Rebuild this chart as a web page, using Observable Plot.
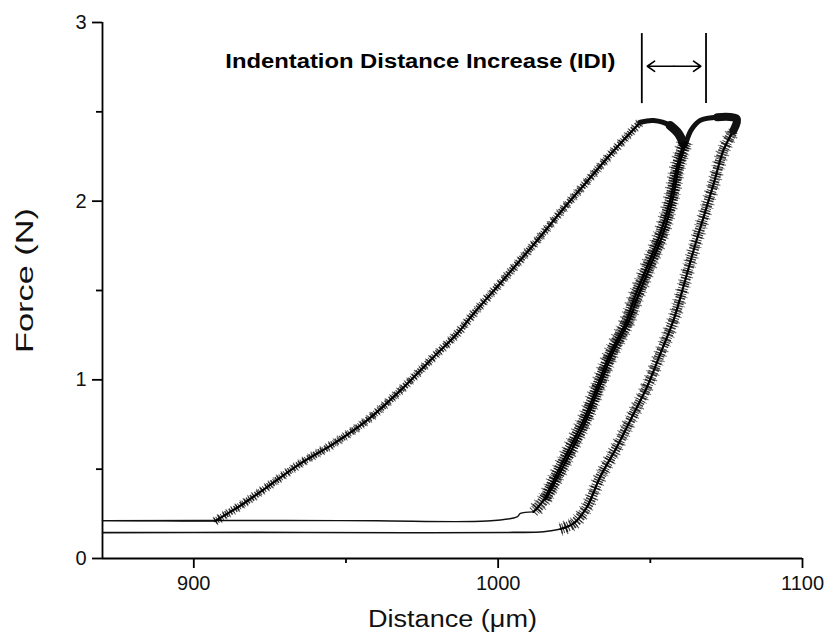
<!DOCTYPE html>
<html>
<head>
<meta charset="utf-8">
<script src="https://cdn.jsdelivr.net/npm/d3@7"></script>
<script src="https://cdn.jsdelivr.net/npm/@observablehq/plot@0.6"></script>
<style>
  html, body { margin: 0; padding: 0; background: #fff; }
  #chart { width: 826px; height: 641px; }
</style>
</head>
<body>
<div id="chart"></div>
<script>
// ---- data (distance in µm, force in N) ----
const xTicks = [900, 1000, 1100];
const xMinorTicks = [950, 1050];
const yTicks = [0, 1, 2, 3];
const yMinorTicks = [0.5, 1.5, 2.5];

// first cycle
const approach1 = [[870, 0.212], [890, 0.211], [907, 0.209]];
const loading1 = [[907, 0.209], [909.3, 0.233], [916.4, 0.308], [924.1, 0.400], [935.0, 0.531], [946.0, 0.643],
  [956.9, 0.773], [967.9, 0.941], [978.8, 1.128], [986.5, 1.258], [991.9, 1.370], [1001.8, 1.562],
  [1012.8, 1.780], [1021.5, 1.959], [1029.2, 2.110], [1035.7, 2.239], [1042.3, 2.362], [1046.7, 2.442]];
const hold1 = [[1046.7, 2.442], [1051.1, 2.451], [1056.5, 2.423], [1059.3, 2.377], [1060.9, 2.321]];
const unloading1 = [[1060.9, 2.321], [1058.7, 2.190], [1056.5, 2.004], [1053.3, 1.818], [1048.9, 1.631],
  [1044.5, 1.445], [1042.3, 1.333], [1036.8, 1.147], [1032.5, 0.960], [1028.1, 0.773], [1023.7, 0.624],
  [1019.3, 0.475], [1014.9, 0.326], [1011.6, 0.261]];
const return1 = [[1011.6, 0.261], [1007.3, 0.252], [1006.2, 0.233], [996.3, 0.210], [960, 0.211], [930, 0.213], [870, 0.212]];

// second cycle
const approach2 = [[870, 0.145], [920, 0.146], [970, 0.144], [1005, 0.146], [1015, 0.150], [1020.5, 0.165]];
const loading2 = [[1020.5, 0.165], [1024.8, 0.196], [1029.2, 0.289], [1033.5, 0.456], [1039.0, 0.624], [1043.4, 0.773],
  [1048.9, 0.960], [1053.3, 1.147], [1057.6, 1.333], [1061.0, 1.529], [1064.2, 1.724], [1067.5, 1.911],
  [1070.8, 2.097], [1074.0, 2.284], [1077.3, 2.395]];
const hold2 = [[1077.3, 2.395], [1078.4, 2.461], [1072, 2.470], [1066.4, 2.452], [1063.5, 2.400], [1061.8, 2.330]];
const unloading2 = [[1061.8, 2.330], [1059.5, 2.200], [1057.3, 2.010], [1054.2, 1.820], [1049.8, 1.630],
  [1045.3, 1.440], [1043.0, 1.330], [1037.6, 1.150], [1033.2, 0.960], [1028.8, 0.770], [1024.5, 0.620],
  [1020.0, 0.470], [1015.6, 0.330]];

// annotation
const idiText = ["Indentation Distance Increase (IDI)"];
const idiTextPos = [1038.5, 2.78];
const idiBars = [1047.2, 1068.3];
const idiBarRange = [2.546, 2.938];
const idiArrowEnds = [1049.0, 1066.6];
const idiArrowY = 2.755;

const xLabel = "Distance (\u03bcm)";
const yLabel = "Force (N)";

// ---- drawing ----
const FONT = "'Liberation Sans', Arial, Helvetica, sans-serif";
const X = d => d[0], Y = d => d[1];
const HATCH_A = "1.4,1.0,0.9,1.5,1.7,1.1,1.0,1.7,1.5,0.9";
const HATCH_B = "1.0,3.7,1.3,5.1,0.8,2.9,1.1,4.6";

function noisy(data, w) {
  return [
    Plot.line(data, {x: X, y: Y, stroke: "#000", strokeWidth: w * 1.4, strokeDasharray: HATCH_B,
      strokeLinecap: "butt", strokeLinejoin: "miter", strokeOpacity: 0.55, curve: "catmull-rom"}),
    Plot.line(data, {x: X, y: Y, stroke: "#000", strokeWidth: w, strokeDasharray: HATCH_A,
      strokeLinecap: "butt", strokeLinejoin: "miter", strokeOpacity: 0.8, curve: "catmull-rom"}),
    Plot.line(data, {x: X, y: Y, stroke: "#000", strokeWidth: 2.2, curve: "catmull-rom"})
  ];
}
function plain(data, w) {
  return Plot.line(data, {x: X, y: Y, stroke: "#111", strokeWidth: w, curve: "catmull-rom"});
}

const mid = (idiArrowEnds[0] + idiArrowEnds[1]) / 2;
const fmt = d => String(d);

const chart = Plot.plot({
  width: 826,
  height: 641,
  marginLeft: 102,
  marginRight: 24,
  marginTop: 22,
  marginBottom: 83,
  style: {fontFamily: FONT, fontSize: "20px", background: "#fff", color: "#000", overflow: "visible"},
  x: {domain: [870, 1100], axis: null},
  y: {domain: [0, 3], axis: null},
  marks: [
    // axes
    Plot.axisX(xTicks, {tickSize: 10, tickPadding: 7, strokeWidth: 1.8, tickFormat: fmt, label: null}),
    Plot.axisX(xMinorTicks, {tickSize: 5, strokeWidth: 1.8, tickFormat: () => "", label: null}),
    Plot.axisY(yTicks, {tickSize: 10, tickPadding: 6, strokeWidth: 1.8, tickFormat: fmt, label: null}),
    Plot.axisY(yMinorTicks, {tickSize: 6, strokeWidth: 1.8, tickFormat: () => "", label: null}),
    Plot.ruleX([870], {stroke: "#000", strokeWidth: 1.8}),
    Plot.ruleY([0], {stroke: "#000", strokeWidth: 1.8}),
    Plot.text([xLabel], {frameAnchor: "bottom", dy: 61, lineAnchor: "middle", textAnchor: "middle",
      fontSize: 23, fill: "#111", text: d => d}),
    Plot.text([yLabel], {frameAnchor: "left", dx: -77, dy: -10, rotate: -90, lineAnchor: "middle",
      textAnchor: "middle", fontSize: 23, fill: "#111", text: d => d}),

    // curves
    plain(approach1, 1.4),
    plain(return1, 1.4),
    plain(approach2, 1.6),
    noisy(loading1, 7),
    plain(hold1, 5),
    plain(hold1.slice(2), 9),
    noisy(unloading1, 11),
    noisy(loading2, 10),
    plain(hold2, 5),
    plain(hold2.slice(0, 3), 8),
    noisy(unloading2, 10),

    // annotation
    Plot.text(idiText, {x: idiTextPos[0], y: idiTextPos[1], text: d => d, textAnchor: "end",
      fontWeight: "bold", fontSize: 20, fill: "#000"}),
    Plot.ruleX(idiBars, {y1: idiBarRange[0], y2: idiBarRange[1], stroke: "#000", strokeWidth: 1.8}),
    Plot.arrow([idiArrowEnds[0], idiArrowEnds[1]], {x1: mid, y1: idiArrowY, x2: d => d, y2: idiArrowY,
      stroke: "#000", strokeWidth: 1.6, headLength: 11, headAngle: 70})
  ]
});

// tick label size and the stretched labels as seen in the figure
const root = d3.select(chart);
root.selectAll('g[aria-label="x-axis tick label"], g[aria-label="y-axis tick label"]')
  .attr("font-size", 20).selectAll("text").attr("font-size", 20).attr("fill", "#111");
root.selectAll("text").each(function () {
  const t = this.textContent;
  if (t === idiText[0]) d3.select(this).attr("textLength", 390).attr("lengthAdjust", "spacingAndGlyphs");
  if (t === xLabel) d3.select(this).attr("textLength", 169).attr("lengthAdjust", "spacingAndGlyphs");
  if (t === yLabel) d3.select(this).attr("textLength", 145).attr("lengthAdjust", "spacingAndGlyphs");
});
document.getElementById("chart").appendChild(chart);
</script>
</body>
</html>
